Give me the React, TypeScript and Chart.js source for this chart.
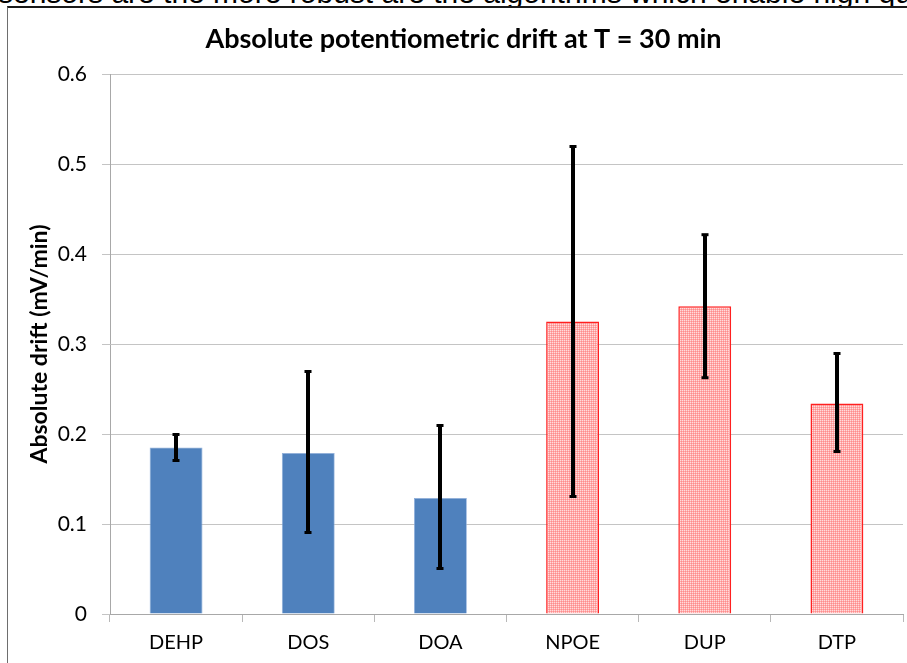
import React, { useEffect, useRef } from "react";
import { Chart, registerables } from "chart.js";

Chart.register(...registerables);

const categories = ["DEHP", "DOS", "DOA", "NPOE", "DUP", "DTP"];
const drift = [0.185, 0.179, 0.129, 0.325, 0.342, 0.234];
const errorLow = [0.17, 0.09, 0.05, 0.13, 0.262, 0.18];
const errorHigh = [0.2, 0.27, 0.21, 0.52, 0.422, 0.29];
const hatched = [false, false, false, true, true, true];

const chartTitle = "Absolute potentiometric drift at T = 30 min";
const yTitle = "Absolute drift (mV/min)";
const yMin = 0;
const yMax = 0.6;
const yStep = 0.1;
const headerText = "sensors are the more robust are the algorithms which enable high qu";

const FONT = 'Lato, "Liberation Sans", Arial, sans-serif';

const titlePlugin = {
  id: "customTitle",
  afterDraw(chart: any) {
    const ctx = chart.ctx;
    ctx.save();
    ctx.font = `bold 27px ${FONT}`;
    ctx.fillStyle = "#000000";
    ctx.textAlign = "center";
    ctx.textBaseline = "middle";
    ctx.fillText(chartTitle, chart.width / 2 + 6, 31);
    ctx.restore();
  },
};

const hatchPlugin = {
  id: "hatchFill",
  afterDatasetsDraw(chart: any) {
    const meta = chart.getDatasetMeta(0);
    const ctx = chart.ctx;
    ctx.save();
    meta.data.forEach((bar: any, i: number) => {
      if (!hatched[i]) return;
      const left = bar.x - bar.width / 2;
      const right = bar.x + bar.width / 2;
      const x0 = Math.ceil(left + 1.5);
      const x1 = Math.floor(right - 1.5);
      const y0 = Math.ceil(bar.y + 1.5);
      const y1 = Math.floor(bar.base - 0.5);
      for (let py = y0; py < y1; py++) {
        for (let px = x0; px < x1; px++) {
          if (px % 2 === 0 && py % 2 === 0) {
            ctx.fillStyle = "#ffdcdc";
            ctx.fillRect(px, py, 1, 1);
          } else if (px % 2 === 1 && py % 2 === 1) {
            ctx.fillStyle = "#ff8c8c";
            ctx.fillRect(px, py, 1, 1);
          }
        }
      }
    });
    ctx.restore();
  },
};

const errorBarPlugin = {
  id: "errorBars",
  afterDatasetsDraw(chart: any) {
    const meta = chart.getDatasetMeta(0);
    const yScale = chart.scales.y;
    const ctx = chart.ctx;
    ctx.save();
    ctx.fillStyle = "#000000";
    meta.data.forEach((bar: any, i: number) => {
      const x = Math.round(bar.x);
      const yHi = yScale.getPixelForValue(errorHigh[i]);
      const yLo = yScale.getPixelForValue(errorLow[i]);
      ctx.fillRect(x - 2, yHi, 4, yLo - yHi);
      ctx.fillRect(x - 3.5, yHi - 1, 7, 3);
      ctx.fillRect(x - 3.5, yLo - 2, 7, 3);
    });
    ctx.restore();
  },
};

export default function App() {
  const ref = useRef<HTMLCanvasElement | null>(null);

  useEffect(() => {
    document.body.style.margin = "0";
    const canvas = ref.current;
    if (!canvas) return;
    const chart = new Chart(canvas, {
      type: "bar",
      data: {
        labels: categories,
        datasets: [
          {
            data: drift,
            backgroundColor: hatched.map((h) => (h ? "#ffaaaa" : "#4f81bd")),
            borderColor: hatched.map((h) => (h ? "#ff2020" : "#8eaedb")),
            borderWidth: hatched.map((h) => (h ? 1.5 : 0.8)),
            barPercentage: 0.4,
            categoryPercentage: 1,
          } as any,
        ],
      },
      options: {
        animation: false,
        responsive: false,
        maintainAspectRatio: false,
        layout: { padding: { left: 0, right: 4, top: 66, bottom: 0 } },
        plugins: {
          legend: { display: false },
          tooltip: { enabled: false },
          title: { display: false },
        },
        scales: {
          x: {
            type: "category",
            grid: {
              drawOnChartArea: false,
              drawTicks: true,
              tickLength: 8,
              offset: true,
              color: "#b8b8b8",
            },
            border: { color: "#a8a8a8", width: 1 },
            ticks: {
              color: "#000000",
              font: { family: FONT, size: 20, lineHeight: 1.2 },
              padding: 9,
              maxRotation: 0,
            },
            afterFit(scale: any) {
              scale.height = 49;
            },
          },
          y: {
            min: yMin,
            max: yMax,
            grid: { color: "#c4c4c4", tickLength: 8, drawTicks: true },
            border: { color: "#a8a8a8", width: 1 },
            ticks: {
              stepSize: yStep,
              color: "#000000",
              font: { family: FONT, size: 21, lineHeight: 1.2 },
              padding: 15,
            },
            title: {
              display: true,
              text: yTitle,
              color: "#000000",
              font: { family: FONT, size: 23, weight: "bold", lineHeight: 1.2 },
              padding: { top: 18, bottom: 0 },
            },
            afterFit(scale: any) {
              scale.width = 102;
            },
          },
        },
      },
      plugins: [hatchPlugin, errorBarPlugin, titlePlugin],
    });
    return () => chart.destroy();
  }, []);

  return (
    <div style={{ position: "relative", width: 907, height: 663, overflow: "hidden", background: "#fff" }}>
      <div
        style={{
          position: "absolute",
          left: -2,
          top: -22,
          whiteSpace: "nowrap",
          fontFamily: '"Liberation Sans", Arial, sans-serif',
          fontSize: 30,
          lineHeight: "30px",
          color: "#000",
        }}
      >
        {headerText}
      </div>
      <div
        style={{
          position: "absolute",
          left: 7,
          top: 6,
          width: 900,
          height: 657,
          borderLeft: "1px solid #6e6e6e",
          borderTop: "2px solid #1a1a1a",
          background: "#fff",
        }}
      >
        <canvas ref={ref} width={899} height={655} style={{ display: "block" }} />
      </div>
    </div>
  );
}
